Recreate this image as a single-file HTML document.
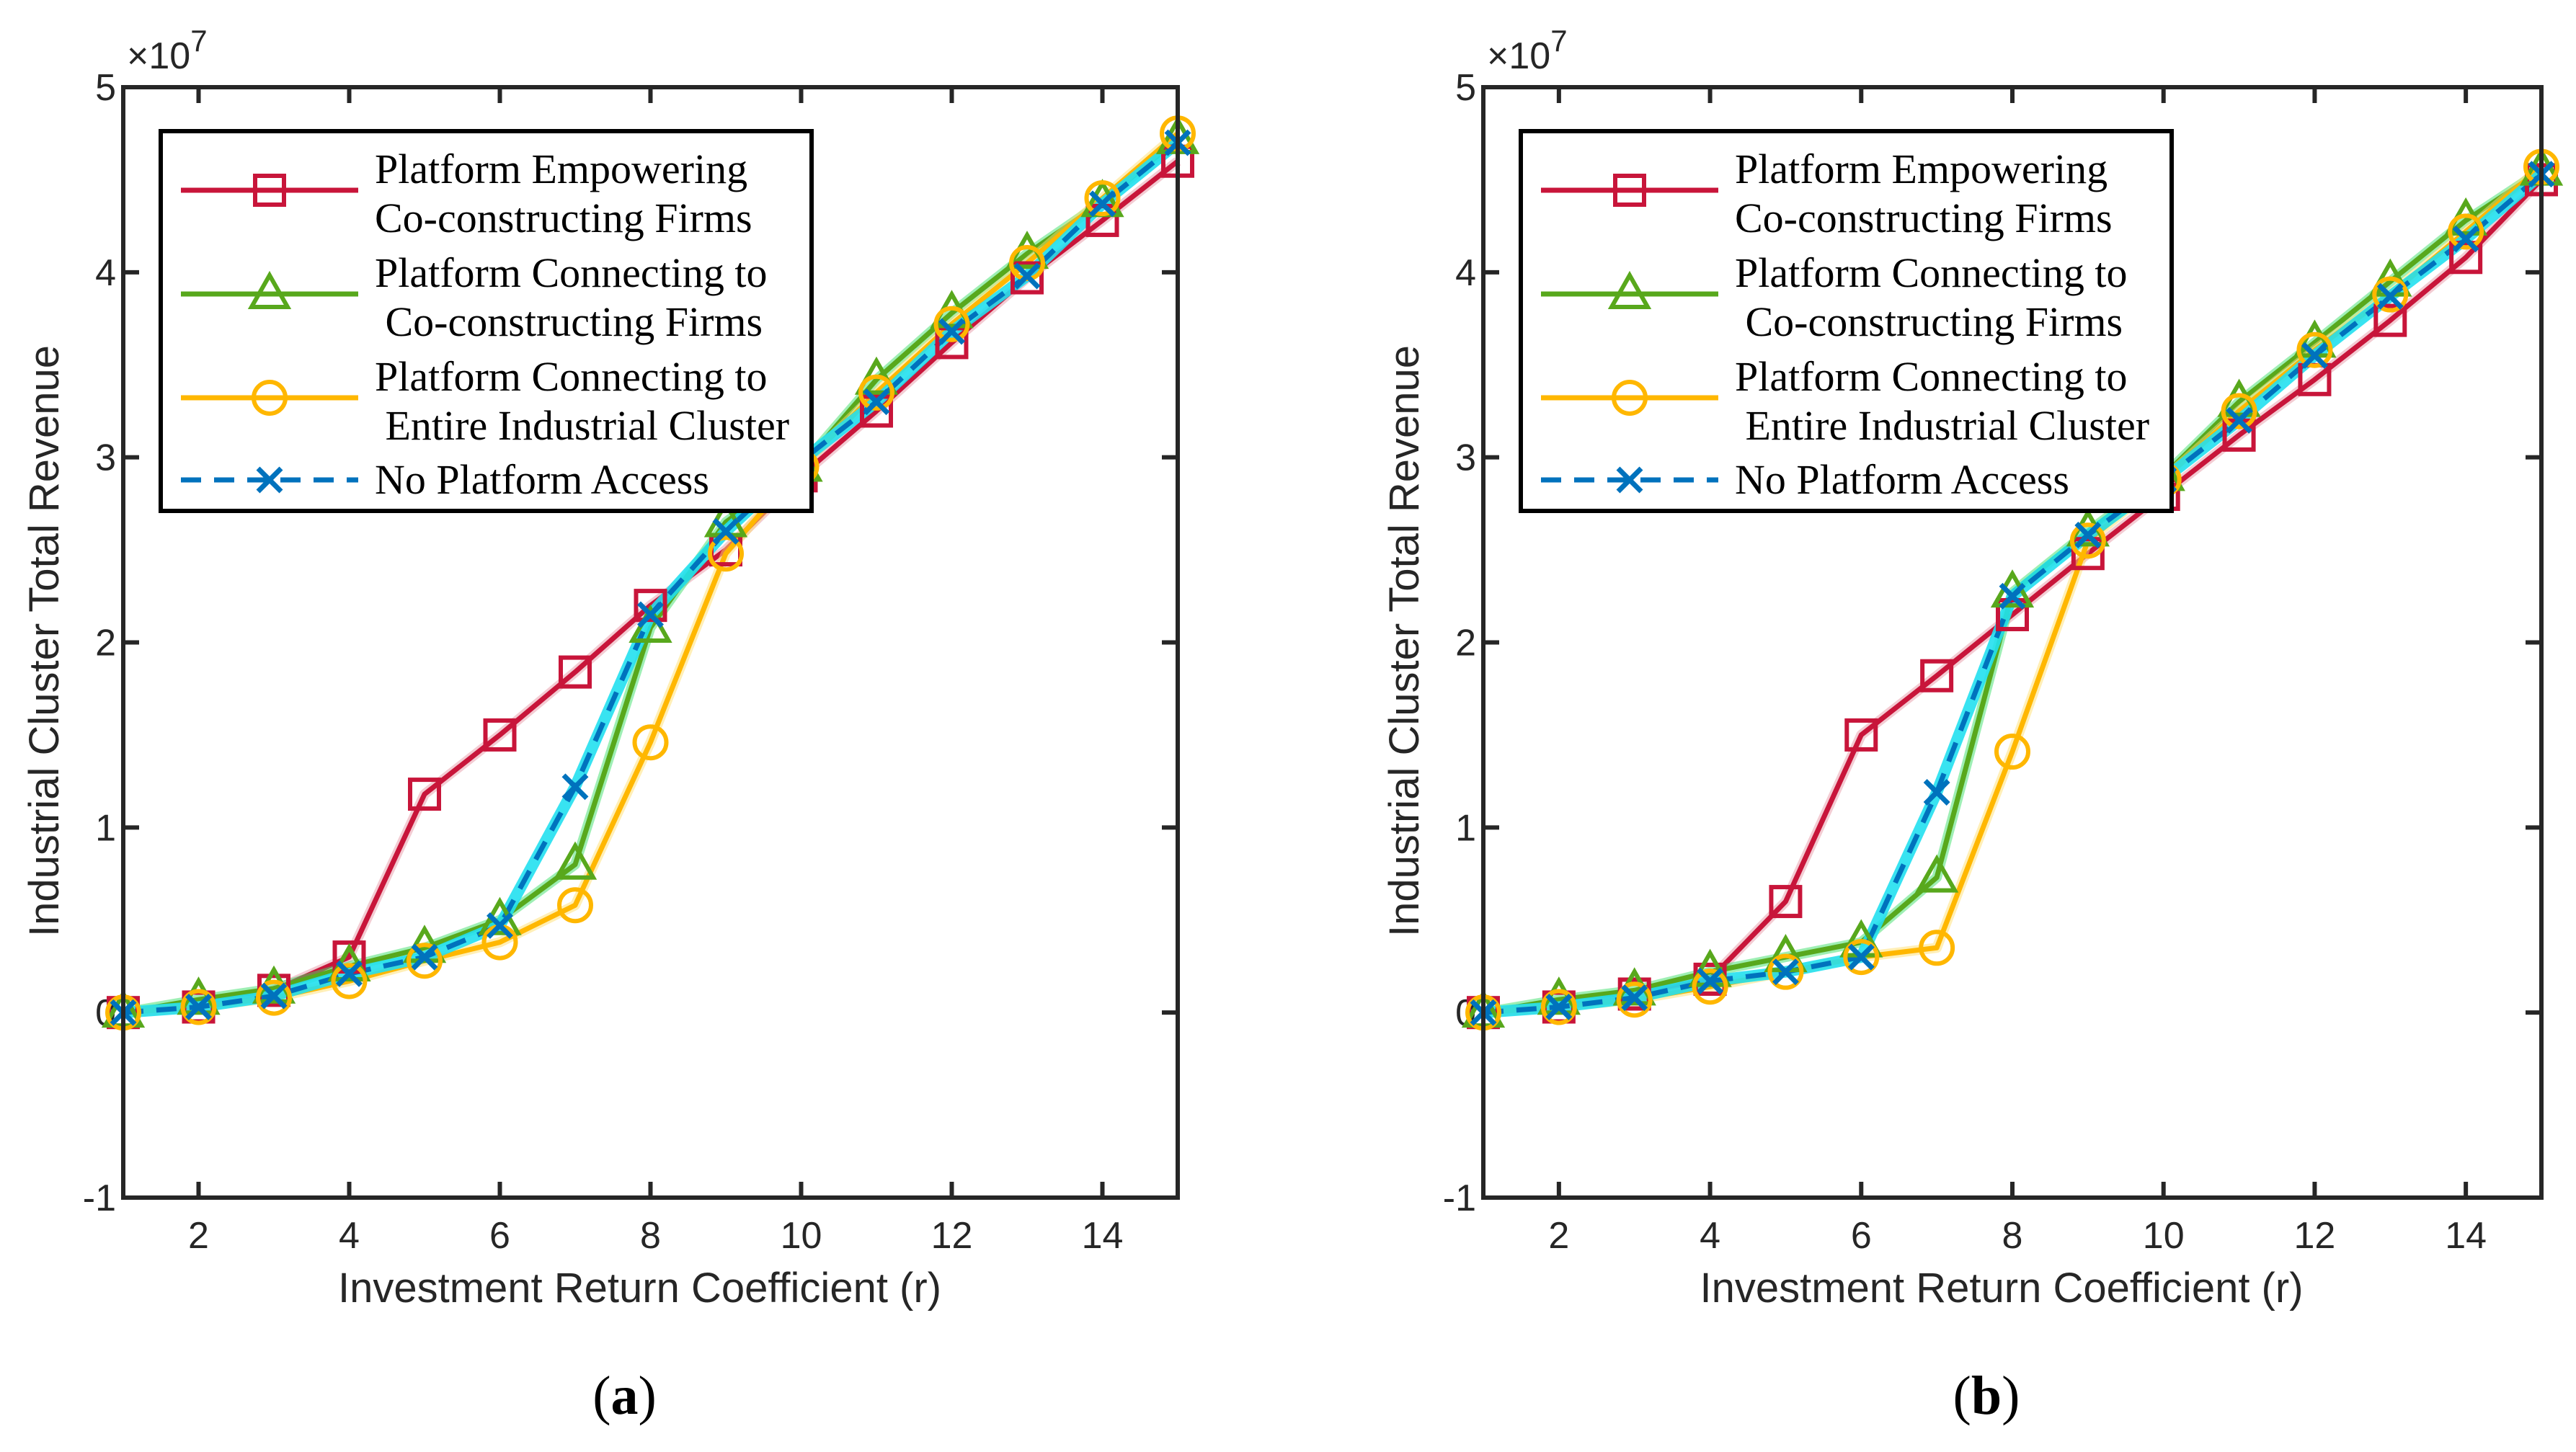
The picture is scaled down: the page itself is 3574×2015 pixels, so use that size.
<!DOCTYPE html>
<html><head><meta charset="utf-8">
<style>
html,body{margin:0;padding:0;background:#fff;}
svg{display:block;}
.tick{font-family:"Liberation Sans",sans-serif;font-size:52px;fill:#262626;}
.ttl{font-family:"Liberation Sans",sans-serif;font-size:58px;fill:#262626;}
.leg{font-family:"Liberation Serif",serif;font-size:58px;fill:#000;}
.cap{font-family:"Liberation Serif",serif;font-size:76px;fill:#000;}
</style></head>
<body>
<svg id="chart" width="3574" height="2015" viewBox="0 0 3574 2015" xmlns="http://www.w3.org/2000/svg"></svg>
<script>
const xValues=[1,2,3,4,5,6,7,8,9,10,11,12,13,14,15];
const xTicks=[2,4,6,8,10,12,14];
const yTicks=[-1,0,1,2,3,4,5];
const seriesNames=["Platform Empowering|Co-constructing Firms","Platform Connecting to| Co-constructing Firms","Platform Connecting to| Entire Industrial Cluster","No Platform Access"];
const aRed=[0,0.03,0.12,0.3,1.18,1.5,1.84,2.2,2.5,2.9,3.25,3.62,3.97,4.28,4.6];
const aGreen=[0,0.07,0.13,0.25,0.35,0.5,0.8,2.08,2.65,2.95,3.42,3.78,4.1,4.38,4.72];
const aYellow=[0,0.03,0.08,0.17,0.28,0.38,0.58,1.46,2.48,2.95,3.35,3.72,4.05,4.4,4.75];
const aBlue=[0,0.03,0.09,0.21,0.3,0.47,1.22,2.15,2.6,2.98,3.3,3.68,3.98,4.37,4.7];
const bRed=[0,0.03,0.1,0.18,0.6,1.5,1.82,2.15,2.48,2.8,3.12,3.42,3.74,4.08,4.5];
const bGreen=[0,0.07,0.12,0.22,0.3,0.38,0.73,2.27,2.6,2.9,3.3,3.62,3.95,4.28,4.55];
const bYellow=[0,0.03,0.07,0.14,0.22,0.3,0.35,1.41,2.55,2.88,3.25,3.58,3.88,4.22,4.57];
const bBlue=[0,0.03,0.08,0.17,0.22,0.3,1.19,2.25,2.58,2.88,3.2,3.55,3.87,4.18,4.53];

const NS="http://www.w3.org/2000/svg";
const svg=document.getElementById('chart');
function mk(tag,attrs,parent){const e=document.createElementNS(NS,tag);for(const k in attrs)e.setAttribute(k,attrs[k]);(parent||svg).appendChild(e);return e;}
const COL={red:"#c8153a",green:"#58a81c",yellow:"#ffb700",blue:"#0072bd"};

function marker(g,type,x,y,color){
  let m;
  if(type==='square') m=mk('rect',{x:x-20,y:y-20,width:40,height:40,fill:'none',stroke:color,'stroke-width':6},g);
  else if(type==='tri') m=mk('polygon',{points:`${x},${y-26} ${x+25},${y+18} ${x-25},${y+18}`,fill:'none',stroke:color,'stroke-width':6},g);
  else if(type==='circle') m=mk('circle',{cx:x,cy:y,r:22,fill:'none',stroke:color,'stroke-width':6},g);
  else { m=mk('path',{d:`M${x-16},${y-16}L${x+16},${y+16}M${x+16},${y-16}L${x-16},${y+16}`,stroke:color,'stroke-width':7,fill:'none'},g);}
  
  
}

function panel(L,R,T,B,data,cap,id){
  const g=mk('g',{});
  
  
  const sx=v=>L+(v-1)/(15-1)*(R-L);
  const sy=v=>B-(v+1)/6*(B-T);
  xTicks.forEach(t=>{
    const x=sx(t);
    mk('line',{x1:x,y1:B,x2:x,y2:B-22,stroke:'#262626','stroke-width':6},g);
    mk('line',{x1:x,y1:T,x2:x,y2:T+22,stroke:'#262626','stroke-width':6},g);
    const tx=mk('text',{x:x,y:B+70,'text-anchor':'middle',class:'tick'},g);tx.textContent=t;
    
    
  });
  yTicks.forEach(t=>{
    const y=sy(t);
    mk('line',{x1:L,y1:y,x2:L+22,y2:y,stroke:'#262626','stroke-width':6},g);
    mk('line',{x1:R,y1:y,x2:R-22,y2:y,stroke:'#262626','stroke-width':6},g);
    const tx=mk('text',{x:L-10,y:y+18,'text-anchor':'end',class:'tick'},g);tx.textContent=t;
    
    
  });
  const ex=mk('text',{x:L+5,y:T-26,class:'tick'},g);
  ex.innerHTML='×10<tspan dy="-24" font-size="42">7</tspan>';
  
  
  const specs=[[data[0],COL.red,'square','#e89aa8'],[data[1],COL.green,'tri','#3ee06a'],[data[2],COL.yellow,'circle','#ffe070'],[data[3],COL.blue,'x','#22e0f0']];
  specs.forEach((s,i)=>{
    const pts=xValues.map((xv,j)=>sx(xv)+','+sy(s[0][j])).join(' ');
    const halo=mk('polyline',{points:pts,fill:'none',stroke:s[3],'stroke-width':i==3?16:14,'stroke-opacity':i==3?0.9:0.5,'stroke-linejoin':'round'},g);
    
    
    const pl=mk('polyline',{points:pts,fill:'none',stroke:s[1],'stroke-width':7,'stroke-linejoin':'round'},g);
    if(i==3) pl.setAttribute('stroke-dasharray','28,18');
    
    
  });
  specs.forEach(s=>{xValues.forEach((xv,j)=>marker(g,s[2],sx(xv),sy(s[0][j]),s[1]));});
  const box=mk('rect',{x:L,y:T,width:R-L,height:B-T,fill:'none',stroke:'#262626','stroke-width':6},g);
  
  
  const xt=mk('text',{x:(L+R)/2-15,y:B+145,'text-anchor':'middle',class:'ttl'},g);
  xt.textContent='Investment Return Coefficient (r)';
  
  
  const yt=mk('text',{x:0,y:0,'text-anchor':'middle',class:'ttl',transform:`translate(${L-90},${(T+B)/2-2}) rotate(-90)`},g);
  yt.textContent='Industrial Cluster Total Revenue';
  
  
  const lx=L+52, lw=903;
  const lg=mk('g',{},g);
  
  
  mk('rect',{x:lx,y:182,width:lw,height:527,fill:'#fff',stroke:'#000','stroke-width':6},lg);
  const rows=[[264,[254,322]],[408,[398,466]],[552,[542,610]],[666,[685]]];
  specs.forEach((s,i)=>{
    const ly=rows[i][0];
    const ln=mk('line',{x1:lx+28,y1:ly,x2:lx+274,y2:ly,stroke:s[1],'stroke-width':7},lg);
    if(i==3) ln.setAttribute('stroke-dasharray','28,18');
    
    
    marker(lg,s[2],lx+151,ly,s[1]);
    const parts=seriesNames[i].split('|');
    parts.forEach((p,k)=>{
      const t=mk('text',{x:lx+297,y:rows[i][1][k],class:'leg'},lg);
      t.style.whiteSpace='pre';
      t.textContent=p;
      
      
    });
  });
  const c=mk('text',{x:(L+R)/2-36,y:1962,'text-anchor':'middle',class:'cap'},g);
  c.innerHTML='(<tspan font-weight="bold">'+cap+'</tspan>)';
  
  
}
panel(171,1634,121,1662,[aRed,aGreen,aYellow,aBlue],'a','a');
panel(2058,3526,121,1662,[bRed,bGreen,bYellow,bBlue],'b','b');
</script>
</body></html>
